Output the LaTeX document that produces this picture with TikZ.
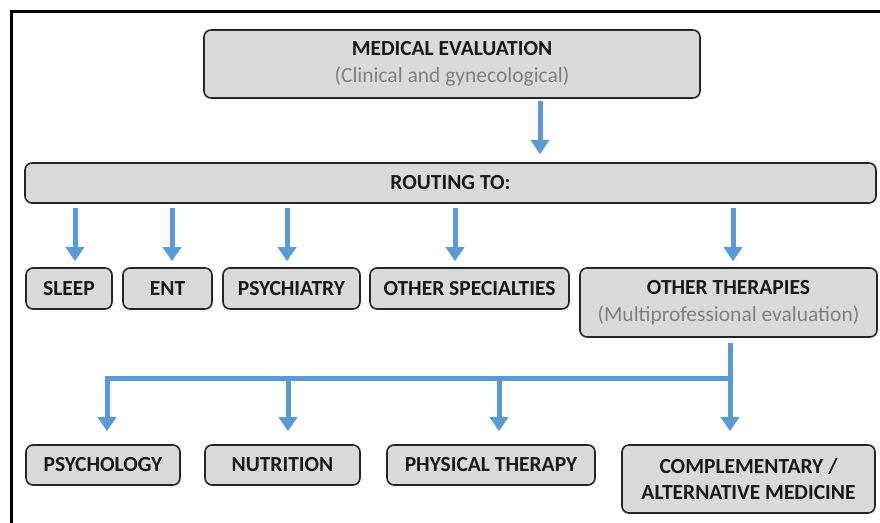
\documentclass[tikz,border=0pt]{standalone}
\usepackage{fontspec}
\setmainfont{Carlito}
\usetikzlibrary{arrows.meta}
\definecolor{flowblue}{HTML}{5B9BD5}
\definecolor{boxgray}{HTML}{D9D9D9}
\definecolor{boxline}{HTML}{262626}
\definecolor{subgray}{HTML}{808080}
\newcommand\subline[1]{{\mdseries\color{subgray}#1}}

\begin{document}
\begin{tikzpicture}[
            x=1pt, y=-1pt,
            box/.style={draw=boxline, fill=boxgray, line width=1.6pt, rounded corners=7pt,
                    inner sep=0pt, align=center, text=black!90,
                    font=\fontsize{21.5}{26.5}\selectfont\bfseries},
            flow/.style={flowblue, line width=5pt, -{Triangle[width=18pt,length=14pt]},
                    shorten <=4pt, shorten >=6pt}
        ]
        \useasboundingbox (0, 0) rectangle (880, 522);
        \clip (0, 0) rectangle (880, 522);

        % frame
        \draw[line width=3pt] (11.5, 540) -- (11.5, 11) -- (900, 11);

        % evaluation
        \node[box, minimum width=496, minimum height=68] (med) at (452, 64)
            {MEDICAL EVALUATION\\ \subline{(Clinical and gynecological)}};
        \node[box, minimum width=851, minimum height=40] (routing) at (450.5, 183) {ROUTING TO:};

        % specialties
        \node[box, minimum width=86, minimum height=41] (sleep) at (69, 288.5) {SLEEP};
        \node[box, minimum width=89, minimum height=41] (ent) at (167.5, 288.5) {ENT};
        \node[box, minimum width=137, minimum height=41] (psych) at (291.5, 288.5) {PSYCHIATRY};
        \node[box, minimum width=199, minimum height=41] (ospec) at (469.5, 288.5) {OTHER SPECIALTIES};
        \node[box, minimum width=297, minimum height=69] (other) at (728.5, 302.5)
            {OTHER THERAPIES\\ \subline{(Multiprofessional evaluation)}};

        % therapies
        \node[box, minimum width=154, minimum height=40] (psychology) at (103, 465) {PSYCHOLOGY};
        \node[box, minimum width=155, minimum height=40] (nutrition) at (282.5, 465) {NUTRITION};
        \node[box, minimum width=208, minimum height=40] (physical) at (491, 465) {PHYSICAL THERAPY};
        \node[box, minimum width=253, minimum height=68] (comp) at (748.5, 479)
            {COMPLEMENTARY /\\ ALTERNATIVE MEDICINE};

        % arrows
        \draw[flow, shorten <=2pt, shorten >=8pt] ([xshift=88pt]med.south) -- ([xshift=88pt]med.south |- routing.north);
        \foreach \n/\dx in {sleep/6, ent/4.5, psych/-4.5, ospec/-14.5, other/4.5} {
                \draw[flow] ([xshift=\dx pt]\n.north |- routing.south) -- ([xshift=\dx pt]\n.north);
            }

        \coordinate (split) at (730, 378);
        \draw[flow, shorten <=5pt, shorten >=13pt] ([xshift=1.5pt]other.south) -- ([xshift=1.5pt]other.south |- comp.north);
        \draw[flow, shorten <=0pt, shorten >=13pt] (split) -| ([xshift=4pt]psychology.north);
        \foreach \n/\dx in {nutrition/5.5, physical/8} {
                \draw[flow, shorten <=0pt, shorten >=13pt] ([xshift=\dx pt]\n.north |- split) -- ([xshift=\dx pt]\n.north);
            }
    \end{tikzpicture}
\end{document}
